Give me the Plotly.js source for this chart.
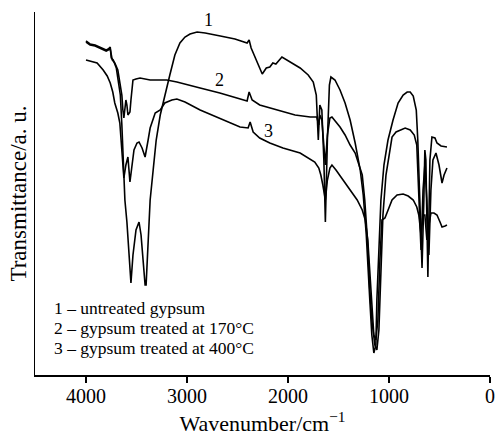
<!DOCTYPE html>
<html>
<head>
<meta charset="utf-8">
<script src="https://cdn.plot.ly/plotly-3.0.1.min.js"></script>
<style>html,body{margin:0;padding:0;background:#fff;}#chart{width:497px;height:436px;}</style>
</head>
<body>
<div id="chart"></div>
<script>
// Curve 1 – untreated gypsum
const wn1 = [4000,3960,3910,3860,3830,3800,3780,3760,3750,3730,3700,3680,3660,3645,3635,3625,3615,3595,3575,3555,3535,3505,3475,3455,3435,3415,3405,3385,3365,3335,3305,3265,3220,3170,3120,3070,3020,2970,2900,2820,2670,2525,2405,2385,2365,2315,2255,2215,2180,2150,2120,2060,1980,1880,1800,1750,1720,1700,1685,1665,1645,1630,1610,1590,1575,1535,1485,1435,1385,1335,1285,1255,1225,1210,1190,1170,1150,1130,1120,1100,1080,1050,1010,960,910,860,820,790,760,730,715,695,673,655,645,635,615,595,575,545,525,485,426];
const t1  = [334,331,330,328,327,325,326,328,317,315,307,295,280,250,225,200,175,153,120,92,120,145,153,140,115,90,90,130,175,205,235,260,280,300,320,332,338,341,343,342,339,336,332,335,327,315,301,307,308,312,311,318,313,307,300,293,280,235,270,265,215,153,235,290,298,295,285,272,255,232,205,180,140,105,75,40,22,30,75,125,175,210,235,255,272,280,283,283,279,265,235,175,107,175,225,215,98,215,238,237,232,229,228];
// Curve 2 – gypsum treated at 170 °C
const wn2 = [4000,3960,3910,3860,3830,3800,3780,3760,3740,3715,3685,3665,3645,3635,3625,3605,3595,3585,3565,3555,3545,3535,3505,3465,3365,3200,3100,2970,2870,2675,2545,2405,2385,2355,2280,2110,1930,1780,1715,1695,1685,1665,1645,1630,1610,1585,1565,1525,1485,1435,1385,1335,1305,1265,1240,1210,1190,1170,1140,1120,1100,1080,1060,1030,1010,970,930,890,840,790,750,725,705,683,663,645,625,605,585,565,535,505,475,455,426];
const t2  = [333,330,329,327,326,324,325,326,315,312,305,290,280,265,257,275,270,260,263,275,290,295,296,297,295,295,293,290,287,282,278,274,283,275,270,265,260,258,258,250,260,255,225,210,240,257,258,253,248,240,230,222,213,200,175,130,85,55,30,25,45,100,160,200,212,238,243,245,247,245,240,230,185,125,185,210,175,120,185,215,222,210,192,200,207];
// Curve 3 – gypsum treated at 400 °C
const wn3 = [4000,3960,3890,3830,3790,3760,3735,3715,3685,3665,3645,3625,3605,3585,3565,3545,3525,3495,3475,3445,3415,3385,3365,3315,3265,3220,3150,3100,3020,2870,2675,2475,2395,2375,2345,2280,2180,2050,1880,1815,1735,1695,1675,1655,1630,1610,1585,1565,1525,1455,1385,1315,1265,1235,1210,1190,1170,1150,1130,1110,1090,1070,1040,1010,970,920,860,810,760,725,705,683,663,645,625,605,585,555,525,495,475,445,426];
const t3  = [315,314,312,305,299,292,283,272,262,252,225,197,210,218,193,210,225,232,233,227,218,235,247,262,265,272,275,276,273,265,257,248,247,253,243,237,232,227,222,218,213,207,200,190,175,195,207,210,205,195,185,175,165,155,135,105,65,40,35,55,115,155,157,165,175,180,181,179,175,168,160,140,160,160,135,150,162,162,160,153,148,149,150];

const xTickVals = [4000,3000,2000,1000,0];
const xTickText = ['4000','3000','2000','1000','0'];
const legendLines = ['1 – untreated gypsum','2 – gypsum treated at 170°C','3 – gypsum treated at 400°C'];
const curveLabels = ['1','2','3'];
const curveLabelX = [2792,2683,2198];
const curveLabelY = [355,295,244];

const FONT = '"Liberation Serif", "Times New Roman", serif';
const lineStyle = {color:'#000', width:1.6};

const traces = [
  {x:wn1, y:t1, type:'scatter', mode:'lines', line:lineStyle, name:legendLines[0], showlegend:false, hoverinfo:'skip'},
  {x:wn2, y:t2, type:'scatter', mode:'lines', line:lineStyle, name:legendLines[1], showlegend:false, hoverinfo:'skip'},
  {x:wn3, y:t3, type:'scatter', mode:'lines', line:lineStyle, name:legendLines[2], showlegend:false, hoverinfo:'skip'}
];

const annotations = [];
curveLabels.forEach((s,i)=>annotations.push({x:curveLabelX[i], y:curveLabelY[i], xref:'x', yref:'y', text:s, showarrow:false, font:{family:FONT, size:18, color:'#000'}}));
const legY = [0.1846, 0.1295, 0.0744];
legendLines.forEach((s,i)=>annotations.push({x:0.0374, y:legY[i], xref:'paper', yref:'paper', xanchor:'left', yanchor:'middle', text:s, showarrow:false, font:{family:FONT, size:17.5, color:'#000'}}));

const layout = {
  width:497, height:436,
  margin:{l:35, r:7, t:12, b:61},
  paper_bgcolor:'#fff', plot_bgcolor:'#fff',
  font:{family:FONT, color:'#000'},
  showlegend:false,
  xaxis:{
    range:[4505,0], tickvals:xTickVals, ticktext:xTickText,
    ticks:'outside', ticklen:6, tickwidth:1.5, tickcolor:'#000',
    ticklabelstandoff:-4,
    showline:true, linewidth:1.5, linecolor:'#000',
    showgrid:false, zeroline:false,
    tickfont:{family:FONT, size:20, color:'#000'},
    title:{text:'Wavenumber/cm<sup>−1</sup>', font:{family:FONT, size:22, color:'#000'}, standoff:16}
  },
  yaxis:{
    range:[0,363], showline:true, linewidth:1.5, linecolor:'#000',
    ticks:'', showticklabels:false, showgrid:false, zeroline:false,
    title:{text:'Transmittance/a. u.', font:{family:FONT, size:23, color:'#000'}, standoff:0}
  },
  annotations:annotations
};

Plotly.newPlot('chart', traces, layout, {displayModeBar:false, staticPlot:true});
</script>
</body>
</html>
